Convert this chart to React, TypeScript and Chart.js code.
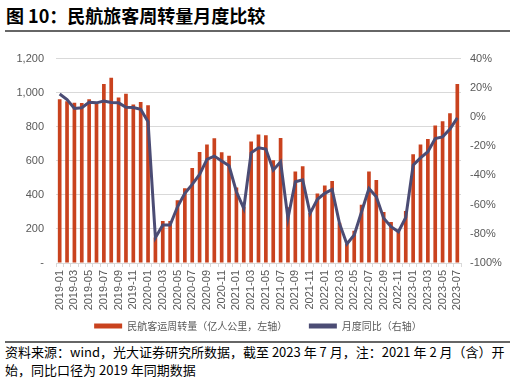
import React, { useEffect, useRef } from "react";
import { Chart, registerables } from "chart.js";

Chart.register(...registerables);

const months: string[] = [];
for (let y = 2019; y <= 2023; y++) {
  for (let m = 1; m <= 12; m++) {
    if (y === 2023 && m > 7) break;
    months.push(`${y}-${String(m).padStart(2, "0")}`);
  }
}

const rpk = [
  961, 950, 941, 939, 961, 940, 1051, 1088, 971, 994, 930, 945,
  926, 150, 246, 246, 369, 439, 557, 652, 695, 732, 650, 629,
  443, 330, 713, 754, 750, 603, 734, 328, 537, 568, 293, 408,
  455, 482, 236, 113, 190, 342, 537, 488, 299, 240, 195, 305,
  639, 695, 728, 807, 832, 879, 1051,
];

const yoy = [
  15.8, 12, 5.8, 6.3, 10.1, 9.7, 11, 9.9, 9.7, 6.7, 6.5, 5.3,
  -3.3, -82.7, -74, -74, -61.5, -52.3, -46.2, -39.3, -29, -26.8, -30.2, -33.4,
  -51.2, -62.6, -24.5, -21.1, -22, -36.4, -30.7, -69.4, -44.4, -43, -66, -56.4,
  -52.3, -49.6, -72.9, -87, -80.8, -64.9, -49, -54.6, -69.4, -75.1, -78.6, -68.8,
  -33, -28, -23.8, -14.7, -13.6, -8.3, -0.6,
];

const barLabel = "民航客运周转量（亿人公里，左轴）";
const lineLabel = "月度同比（右轴）";

const BAR_COLOR = "#C9421E";
const LINE_COLOR = "#4B4C74";
const TICK_COLOR = "#595959";
const GRID_COLOR = "#D9D9D9";
const TICK_FONT = { family: "'Liberation Sans', Arial, sans-serif", size: 11 };

document.body.style.margin = "0";

export default function App() {
  const ref = useRef<HTMLCanvasElement | null>(null);

  useEffect(() => {
    if (!ref.current) return;
    const chart = new Chart(ref.current, {
      type: "bar",
      data: {
        labels: months,
        datasets: [
          {
            type: "bar",
            label: barLabel,
            data: rpk,
            backgroundColor: BAR_COLOR,
            borderWidth: 0,
            barPercentage: 0.5,
            categoryPercentage: 1,
            yAxisID: "y",
            order: 2,
          } as any,
          {
            type: "line",
            label: lineLabel,
            data: yoy,
            borderColor: LINE_COLOR,
            backgroundColor: LINE_COLOR,
            borderWidth: 3,
            pointRadius: 0,
            tension: 0,
            yAxisID: "y1",
            order: 1,
          } as any,
        ],
      },
      options: {
        responsive: false,
        animation: false,
        devicePixelRatio: 1,
        layout: { padding: { top: 18, left: 0, right: 0, bottom: 0 } },
        plugins: {
          tooltip: { enabled: false },
          legend: {
            position: "bottom",
            labels: {
              boxWidth: 28,
              boxHeight: 5,
              padding: 10,
              color: TICK_COLOR,
              font: { family: "'Noto Sans CJK SC', sans-serif", size: 10 },
              sort: (a: any, b: any) => a.datasetIndex - b.datasetIndex,
              generateLabels: (c: any) => {
                const items = Chart.defaults.plugins.legend.labels.generateLabels(c);
                return items.map((it: any) =>
                  it.datasetIndex === 0
                    ? { ...it, text: it.text + "\u3000   ", lineWidth: 0 }
                    : { ...it, lineWidth: 0 }
                );
              },
            },
          },
        },
        scales: {
          x: {
            type: "category",
            offset: true,
            grid: {
              display: true,
              drawOnChartArea: false,
              drawTicks: true,
              tickLength: 4,
              color: GRID_COLOR,
              offset: true,
            },
            border: { display: true, color: GRID_COLOR },
            ticks: {
              autoSkip: false,
              maxRotation: 90,
              minRotation: 90,
              padding: 3,
              color: TICK_COLOR,
              font: TICK_FONT,
              callback: function (_v: any, idx: number) {
                return idx % 2 === 0 ? months[idx] : "";
              },
            },
            afterFit: (s: any) => {
              s.height = 48;
            },
          },
          y: {
            position: "left",
            min: 0,
            max: 1200,
            grid: { color: GRID_COLOR, drawTicks: false },
            border: { display: false },
            ticks: {
              stepSize: 200,
              padding: 12,
              color: TICK_COLOR,
              font: TICK_FONT,
              callback: (v: any) => (v === 0 ? "-" : Number(v).toLocaleString("en-US")),
            },
            afterFit: (s: any) => {
              s.width = 56;
            },
          },
          y1: {
            position: "right",
            min: -100,
            max: 40,
            grid: { display: false, drawTicks: false },
            border: { display: false },
            ticks: {
              stepSize: 20,
              padding: 9,
              color: TICK_COLOR,
              font: TICK_FONT,
              callback: (v: any) => `${v}%`,
            },
            afterFit: (s: any) => {
              s.width = 55;
            },
          },
        },
      } as any,
    });
    return () => chart.destroy();
  }, []);

  return (
    <div style={{ position: "relative", width: 516, height: 381, background: "#fff", overflow: "hidden" }}>
      <div
        style={{
          position: "absolute",
          left: 6,
          top: 3,
          fontFamily: "'Noto Sans CJK SC', sans-serif",
          fontWeight: 700,
          fontSize: 18,
          lineHeight: "25px",
          color: "#000",
          whiteSpace: "nowrap",
        }}
      >
        图 10：民航旅客周转量月度比较
      </div>
      <div style={{ position: "absolute", left: 5, top: 30, width: 505, height: 2, background: "#666" }} />
      <canvas ref={ref} width={516} height={301} style={{ position: "absolute", left: 0, top: 40, width: 516, height: 301 }} />
      <div style={{ position: "absolute", left: 5, top: 341, width: 505, height: 2, background: "#666" }} />
      <div
        style={{
          position: "absolute",
          left: 5,
          top: 343,
          fontFamily: "'Noto Sans CJK SC', sans-serif",
          fontSize: 13,
          lineHeight: "18px",
          color: "#000",
          whiteSpace: "nowrap",
        }}
      >
        资料来源：wind，光大证券研究所数据，截至 2023 年 7 月，注：2021 年 2 月（含）开
        <br />
        始，同比口径为 2019 年同期数据
      </div>
    </div>
  );
}
